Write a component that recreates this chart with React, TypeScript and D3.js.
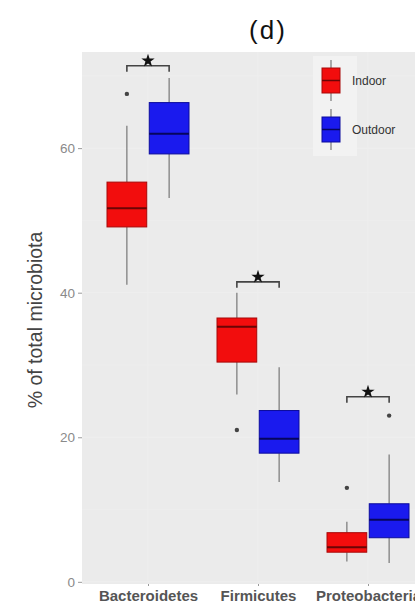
import React, { useEffect, useRef } from "react";
import * as d3 from "d3";

const categories = ["Bacteroidetes", "Firmicutes", "Proteobacteria"];
const groups = ["Indoor", "Outdoor"];
// [lower whisker, Q1, median, Q3, upper whisker]
const indoorBoxes = [
  [41.1, 49.1, 51.7, 55.3, 63.1],
  [25.9, 30.4, 35.3, 36.5, 40.0],
  [2.8, 4.1, 4.8, 6.8, 8.3],
];
const outdoorBoxes = [
  [53.1, 59.2, 62.0, 66.3, 69.7],
  [13.8, 17.8, 19.8, 23.7, 29.7],
  [2.6, 6.1, 8.6, 10.8, 17.6],
];
const indoorOutliers = [[67.5], [21.0], [13.0]];
const outdoorOutliers = [[], [], [23.0]];
const bracketLevels = [71.4, 41.5, 25.6];
const yTicks = [0, 20, 40, 60];
const yMinor = [10, 30, 50, 70];

const fills = { Indoor: "#f20d0d", Outdoor: "#1a1aee" };
const edges = { Indoor: "#a80808", Outdoor: "#0b0b9c" };
const medians = { Indoor: "#6a0505", Outdoor: "#06065e" };

export default function App() {
  const ref = useRef(null);

  useEffect(() => {
    const svg = d3.select(ref.current);
    svg.selectAll("*").remove();

    const left = 82, top = 52, bottom = 584, right = 434;
    const font = "Liberation Sans, Arial, sans-serif";

    const y = d3.scaleLinear().domain([-0.3, 73.3]).range([bottom, top]);
    const x = d3.scalePoint().domain(categories).range([left, right]).padding(0.6);
    const sub = d3.scaleBand().domain(groups).range([-41, 41]).paddingInner(0.06);

    svg.append("text")
      .attr("x", 268).attr("y", 39)
      .attr("text-anchor", "middle")
      .attr("font-family", font).attr("font-size", 26)
      .attr("letter-spacing", 2)
      .attr("fill", "#111")
      .text("(d)");

    // panel
    svg.append("rect")
      .attr("x", left).attr("y", top)
      .attr("width", right - left).attr("height", bottom - top)
      .attr("fill", "#ebebeb");

    svg.selectAll(".minor").data(yMinor).enter().append("line")
      .attr("x1", left).attr("x2", right)
      .attr("y1", (d) => y(d)).attr("y2", (d) => y(d))
      .attr("stroke", "#eeeeee").attr("stroke-width", 0.6);
    svg.selectAll(".major").data(yTicks).enter().append("line")
      .attr("x1", left).attr("x2", right)
      .attr("y1", (d) => y(d)).attr("y2", (d) => y(d))
      .attr("stroke", "#efefef").attr("stroke-width", 1);
    svg.selectAll(".vgrid").data(categories).enter().append("line")
      .attr("x1", (d) => x(d)).attr("x2", (d) => x(d))
      .attr("y1", top).attr("y2", bottom)
      .attr("stroke", "#eeeeee").attr("stroke-width", 1);

    // y axis
    const yAxis = svg.append("g")
      .attr("transform", `translate(${left},0)`)
      .call(d3.axisLeft(y).tickValues(yTicks).tickSize(4).tickPadding(3));
    yAxis.select(".domain").remove();
    yAxis.selectAll("line").attr("stroke", "#999");
    yAxis.selectAll("text")
      .attr("font-family", font).attr("font-size", 13.5).attr("fill", "#8a8a8a");

    svg.append("text")
      .attr("transform", `translate(42,${(228 + 412) / 2}) rotate(-90)`)
      .attr("text-anchor", "middle")
      .attr("font-family", font).attr("font-size", 19.5)
      .attr("fill", "#444")
      .text("% of total microbiota");

    // x axis
    const xAxis = svg.append("g")
      .attr("transform", `translate(0,${bottom})`)
      .call(d3.axisBottom(x).tickSize(2).tickPadding(4));
    xAxis.select(".domain").remove();
    xAxis.selectAll("line").attr("stroke", "#999");
    xAxis.selectAll("text")
      .attr("font-family", font).attr("font-size", 15).attr("font-weight", "bold")
      .attr("fill", "#555");

    // boxes
    const rows = [];
    categories.forEach((c, i) => {
      rows.push({ cat: c, g: "Indoor", s: indoorBoxes[i], out: indoorOutliers[i] });
      rows.push({ cat: c, g: "Outdoor", s: outdoorBoxes[i], out: outdoorOutliers[i] });
    });
    const bw = sub.bandwidth();
    const bx = (r) => x(r.cat) + sub(r.g);
    const cx = (r) => bx(r) + bw / 2;

    const box = svg.selectAll(".box").data(rows).enter().append("g");
    box.append("line")
      .attr("x1", cx).attr("x2", cx)
      .attr("y1", (r) => y(r.s[4])).attr("y2", (r) => y(r.s[3]))
      .attr("stroke", "#777").attr("stroke-width", 1.2);
    box.append("line")
      .attr("x1", cx).attr("x2", cx)
      .attr("y1", (r) => y(r.s[1])).attr("y2", (r) => y(r.s[0]))
      .attr("stroke", "#777").attr("stroke-width", 1.2);
    box.append("rect")
      .attr("x", bx).attr("width", bw)
      .attr("y", (r) => y(r.s[3]))
      .attr("height", (r) => y(r.s[1]) - y(r.s[3]))
      .attr("fill", (r) => fills[r.g])
      .attr("stroke", (r) => edges[r.g]).attr("stroke-width", 1);
    box.append("line")
      .attr("x1", bx).attr("x2", (r) => bx(r) + bw)
      .attr("y1", (r) => y(r.s[2])).attr("y2", (r) => y(r.s[2]))
      .attr("stroke", (r) => medians[r.g])
      .attr("stroke-width", 2);
    box.selectAll("circle").data((r) => r.out.map((v) => ({ v, r }))).enter()
      .append("circle")
      .attr("cx", (d) => cx(d.r)).attr("cy", (d) => y(d.v))
      .attr("r", 2.2).attr("fill", "#444");

    // significance brackets
    const br = svg.selectAll(".br").data(categories).enter().append("g");
    const x1 = (c) => x(c) + sub("Indoor") + bw / 2;
    const x2 = (c) => x(c) + sub("Outdoor") + bw / 2;
    br.append("path")
      .attr("d", (c, i) => {
        const yy = y(bracketLevels[i]);
        return `M${x1(c)},${yy + 6}V${yy}H${x2(c)}V${yy + 6}`;
      })
      .attr("fill", "none").attr("stroke", "#444").attr("stroke-width", 1.6);
    br.append("path")
      .attr("d", d3.symbol(d3.symbolStar, 55))
      .attr("transform", (c, i) =>
        `translate(${(x1(c) + x2(c)) / 2},${y(bracketLevels[i]) - 5})`)
      .attr("fill", "#111");

    // legend
    const lg = svg.append("g");
    lg.append("rect")
      .attr("x", 313).attr("y", 56).attr("width", 44).attr("height", 100)
      .attr("fill", "#f2f2f2");
    groups.forEach((g, i) => {
      const ky = 68 + i * 49;
      lg.append("line")
        .attr("x1", 331).attr("x2", 331).attr("y1", ky - 8).attr("y2", ky + 33)
        .attr("stroke", "#777").attr("stroke-width", 1.2);
      lg.append("rect")
        .attr("x", 322).attr("y", ky).attr("width", 18).attr("height", 25)
        .attr("fill", fills[g]).attr("stroke", edges[g]);
      lg.append("line")
        .attr("x1", 322).attr("x2", 340).attr("y1", ky + 12.5).attr("y2", ky + 12.5)
        .attr("stroke", medians[g]).attr("stroke-width", 1.5);
      lg.append("text")
        .attr("x", 352).attr("y", ky + 17)
        .attr("font-family", font).attr("font-size", 12)
        .attr("fill", "#333")
        .text(g);
    });
  }, []);

  return (
    <svg
      ref={ref}
      width={415}
      height={609}
      style={{ position: "absolute", left: 0, top: 0, background: "#fff" }}
    />
  );
}
